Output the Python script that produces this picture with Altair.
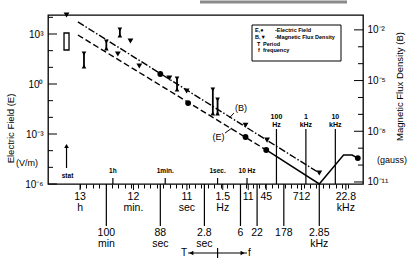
import altair as alt
import pandas as pd
import numpy as np

FONT = "Liberation Sans"

# ---------------- scale domains ----------------
F_MIN, F_MAX = 10 ** -5.59, 10 ** 4.77          # frequency, Hz
E_MIN, E_MAX = 1e-6, 10 ** 4.14                 # electric field, V/m
B_MIN, B_MAX = 10 ** -11.12, 10 ** -1.12        # magnetic flux density, gauss

# ---------------- data ----------------
# electric field points (dots)
e_freq = [1 / 88, 0.10, 8.9, 45, 58000]
e_field = [4.0, 0.072, 6.6e-4, 1.1e-4, 3.6e-5]

# magnetic flux density points (triangles)
b_freq = [7.4e-6, 4.1e-4, 1.1e-3, 2.2e-3, 0.023, 0.089, 8.9, 48, 2850]
b_field = [0.075, 3.7e-4, 2.2e-3, 7.2e-5, 1.4e-5, 2.4e-6, 2.3e-8, 3.0e-9, 3.4e-11]

# electric field ranges (I-bars)
r_freq = [2.9e-5, 1 / 6000, 4.8e-4, 0.042, 0.69, 1.0]
r_lo = [9.1, 110, 660, 0.38, 0.014, 0.014]
r_hi = [83, 440, 2300, 2.6, 0.58, 0.145]

# static field (open box)
stat_freq = [7.4e-6]
stat_lo = [110]
stat_hi = [1150]

# fitted lines
bfit_freq = [1.8e-5, 2850]
bfit_val = [0.0295, 3.4e-11]
efit_freq = [1.8e-5, 45]
efit_val = [870, 1.1e-4]
esolid_freq = [45, 2850, 19000, 37000, 58000]
esolid_val = [1.1e-4, 1e-6, 5.5e-5, 5.5e-5, 3.6e-5]

# curve labels and leaders (E-scale coordinates)
ann_text = ["(B)", "(E)"]
ann_freq = [6.2, 1.07]
ann_val = [0.036, 6.6e-4]
lead_f1 = [3.6, 1.8]
lead_f2 = [2.5, 3.1]
lead_v1 = [0.018, 1.15e-3]
lead_v2 = [0.0091, 2.3e-3]

# bottom axis labels
row1_text = ["13\nh", "12\nmin.", "11\nsec", "1.5\nHz", "11", "45", "712", "22.8\nkHz"]
row1_freq = [1 / (13 * 3600), 1 / 720, 1 / 11, 1.5, 11, 45, 712, 22800]
row2_text = ["100\nmin", "88\nsec", "2.8\nsec", "6", "22", "178", "2.85\nkHz"]
row2_freq = [1 / 6000, 1 / 88, 1 / 2.8, 6, 22, 178, 2850]
up_text = ["1h", "1min.", "1sec.", "10 Hz"]
up_freq = [1 / 3600, 1 / 60, 1, 10]
stat_text = ["stat"]
hz_text = ["100\nHz", "1\nkHz", "10\nkHz"]
hz_freq = [100, 1000, 10000]
tf_freq = [0.1, 10]
tf_mid = [1]
tf_head_freq = [10 ** -0.89, 10 ** 0.85]
tf_head_shape = ["triangle-left", "triangle-right"]

# axis decades
e_major = [1e-6, 1e-3, 1, 1e3]
e_minor = [1e-5, 1e-4, 1e-2, 1e-1, 10, 100, 1e4]
b_major = [1e-11, 1e-8, 1e-5, 1e-2]
b_minor = [1e-10, 1e-9, 1e-7, 1e-6, 1e-4, 1e-3]
x_minor = list(10 ** np.arange(-4.67, 4.62, 0.217))

legend_sym = ["E,\u25cf", "B,\u25bc", "T", "f"]
legend_desc = ["-Electric Field", "-Magnetic Flux Density", "Period", "frequency"]

# ---------------- tables ----------------
e_df = pd.DataFrame({"f": e_freq, "v": e_field})
b_df = pd.DataFrame({"f": b_freq, "v": b_field})
r_df = pd.DataFrame({"f": r_freq, "lo": r_lo, "hi": r_hi})
stat_df = pd.DataFrame({"f": stat_freq, "lo": stat_lo, "hi": stat_hi})
bfit_df = pd.DataFrame({"f": bfit_freq, "v": bfit_val})
efit_df = pd.DataFrame({"f": efit_freq, "v": efit_val})
esol_df = pd.DataFrame({"f": esolid_freq, "v": esolid_val})
ann_df = pd.DataFrame({"f": ann_freq, "v": ann_val, "t": ann_text})
lead_df = pd.DataFrame({"f": lead_f1, "f2": lead_f2, "v": lead_v1, "v2": lead_v2})
row1_df = pd.DataFrame({"f": row1_freq, "t": row1_text})
row2_df = pd.DataFrame({"f": row2_freq, "t": row2_text})
up_df = pd.DataFrame({"f": up_freq, "t": up_text})
stat_t_df = pd.DataFrame({"f": stat_freq, "t": stat_text})
hz_df = pd.DataFrame({"f": hz_freq, "t": hz_text})
tf_df = pd.DataFrame({"f": [tf_freq[0]], "f2": [tf_freq[1]]})
tfmid_df = pd.DataFrame({"f": tf_mid})
tfhead_df = pd.DataFrame({"f": tf_head_freq, "s": tf_head_shape})
tfl_df = pd.DataFrame({"f": tf_freq, "t": ["T", "f"]})
eM_df = pd.DataFrame({"v": e_major})
em_df = pd.DataFrame({"v": e_minor})
bM_df = pd.DataFrame({"v": b_major})
bm_df = pd.DataFrame({"v": b_minor})

# ---------------- scales / axes ----------------
xs = alt.Scale(type="log", domain=[F_MIN, F_MAX], nice=False)
x_axis = alt.Axis(values=x_minor, labels=False, ticks=True, tickSize=4, tickColor="black",
                  tickWidth=1, domain=False, grid=False, title=None)


def X(field="f"):
    return alt.X(f"{field}:Q", scale=xs, axis=x_axis)


e_label = ("datum.value > 100 ? '10\u00b3' : datum.value > 0.1 ? '10\u2070' : "
           "datum.value > 1e-4 ? '10\u207b\u00b3' : '10\u207b\u2076'")
b_label = ("datum.value > 1e-3 ? '10\u207b\u00b2' : datum.value > 1e-6 ? '10\u207b\u2075' : "
           "datum.value > 1e-9 ? '10\u207b\u2078' : '10\u207b\u00b9\u00b9'")

ys_e = alt.Scale(type="log", domain=[E_MIN, E_MAX], nice=False)
e_axis = alt.Axis(values=e_major, labelExpr=e_label, ticks=False, domain=False, grid=False,
                  labelPadding=5, labelFontSize=10, labelFont=FONT, labelColor="black",
                  title="Electric Field (E)", titleAngle=270, titleX=-38, titleY=113,
                  titleBaseline="middle", titleFontSize=9.5, titleFont=FONT,
                  titleFontWeight="normal", titleColor="black")
ys_b = alt.Scale(type="log", domain=[B_MIN, B_MAX], nice=False)
b_axis = alt.Axis(orient="right", values=b_major, labelExpr=b_label, ticks=False, domain=False,
                  grid=False, labelPadding=4, labelFontSize=10, labelFont=FONT,
                  labelColor="black", title="Magnetic Flux Density (B)", titleAngle=270,
                  titleX=36, titleY=71, titleBaseline="middle", titleFontSize=9.5,
                  titleFont=FONT, titleFontWeight="normal", titleColor="black")


def YE(field="v"):
    return alt.Y(f"{field}:Q", scale=ys_e, axis=e_axis)


def YB(field="v"):
    return alt.Y(f"{field}:Q", scale=ys_b, axis=b_axis)


# ---------------- E group ----------------
e_layers = [
    alt.Chart(efit_df).mark_line(color="black", strokeWidth=1.4, strokeDash=[6, 3]).encode(
        x=X(), y=YE()),
    alt.Chart(esol_df).mark_line(color="black", strokeWidth=1.5).encode(x=X(), y=YE()),
    alt.Chart(e_df).mark_point(shape="circle", filled=True, size=34, color="black", opacity=1).encode(
        x=X(), y=YE()),
    alt.Chart(r_df).mark_rule(color="black", strokeWidth=1.8).encode(
        x=X(), y=YE("lo"), y2=alt.Y2("hi")),
    alt.Chart(r_df).mark_point(shape="triangle-down", filled=True, size=22, color="black",
                               opacity=1, yOffset=1.5).encode(x=X(), y=YE("hi")),
    alt.Chart(r_df).mark_point(shape="triangle-up", filled=True, size=22, color="black",
                               opacity=1, yOffset=-1.5).encode(x=X(), y=YE("lo")),
    alt.Chart(stat_df).mark_bar(width=5, fill="white", stroke="black", strokeWidth=1.3).encode(
        x=X(), y=YE("lo"), y2=alt.Y2("hi")),
    # inward decade ticks, left
    alt.Chart(eM_df).mark_rule(color="black", strokeWidth=1).encode(
        y=YE(), x=alt.value(0), x2=alt.value(9)),
    alt.Chart(em_df).mark_rule(color="black", strokeWidth=1).encode(
        y=YE(), x=alt.value(0), x2=alt.value(5)),
    # curve labels and leaders
    alt.Chart(lead_df).mark_rule(color="black", strokeWidth=1).encode(
        x=X(), x2=alt.X2("f2"), y=YE(), y2=alt.Y2("v2")),
    alt.Chart(ann_df).mark_text(font=FONT, fontSize=9, color="black").encode(
        x=X(), y=YE(), text="t:N"),
    # bottom axis furniture
    alt.Chart(row1_df).mark_rule(color="black", strokeWidth=1).encode(
        x=X(), y=alt.value(169), y2=alt.value(175)),
    alt.Chart(row1_df).mark_text(font=FONT, fontSize=10.5, color="black", baseline="top",
                                 lineBreak="\n", lineHeight=11).encode(
        x=X(), y=alt.value(177), text="t:N"),
    alt.Chart(row2_df).mark_rule(color="black", strokeWidth=1.2).encode(
        x=X(), y=alt.value(169), y2=alt.value(211)),
    alt.Chart(row2_df).mark_text(font=FONT, fontSize=10.5, color="black", baseline="top",
                                 lineBreak="\n", lineHeight=11).encode(
        x=X(), y=alt.value(213), text="t:N"),
    alt.Chart(up_df).mark_rule(color="black", strokeWidth=1.2).encode(
        x=X(), y=alt.value(163), y2=alt.value(169)),
    alt.Chart(up_df).mark_text(font=FONT, fontSize=6.5, fontWeight="bold", color="black",
                               baseline="middle").encode(x=X(), y=alt.value(156), text="t:N"),
    alt.Chart(stat_t_df).mark_text(font=FONT, fontSize=6.5, fontWeight="bold", color="black",
                                   baseline="middle", dx=1).encode(
        x=X(), y=alt.value(161), text="t:N"),
    alt.Chart(stat_t_df).mark_rule(color="black", strokeWidth=1.2).encode(
        x=X(), y=alt.value(130), y2=alt.value(153)),
    alt.Chart(stat_t_df).mark_point(shape="triangle-up", filled=True, size=22, color="black",
                                    opacity=1).encode(x=X(), y=alt.value(131)),
    alt.Chart(hz_df).mark_rule(color="black", strokeWidth=1.2).encode(
        x=X(), y=alt.value(114), y2=alt.value(169)),
    alt.Chart(hz_df).mark_text(font=FONT, fontSize=7, fontWeight="bold", color="black",
                               baseline="top", lineBreak="\n", lineHeight=8).encode(
        x=X(), y=alt.value(98), text="t:N"),
    # T <-+-> f arrow
    alt.Chart(tf_df).mark_rule(color="black", strokeWidth=1.2).encode(
        x=X(), x2=alt.X2("f2"), y=alt.value(238)),
    alt.Chart(tfmid_df).mark_rule(color="black", strokeWidth=1.2).encode(
        x=X(), y=alt.value(233), y2=alt.value(243)),
    alt.Chart(tfhead_df).mark_point(filled=True, size=22, color="black", opacity=1).encode(
        x=X(), y=alt.value(238), shape=alt.Shape("s:N", scale=None)),
    alt.Chart(tfl_df.iloc[:1]).mark_text(font=FONT, fontSize=10, color="black", align="right",
                                         dx=-1, baseline="middle").encode(
        x=X(), y=alt.value(238), text="t:N"),
    alt.Chart(tfl_df.iloc[1:]).mark_text(font=FONT, fontSize=10, color="black", align="left",
                                         dx=1, baseline="middle").encode(
        x=X(), y=alt.value(238), text="t:N"),
]

# decorations in pixel space (units, legend box, scan bar)
deco = []
deco.append(alt.Chart(pd.DataFrame({"t": ["(V/m)"]})).mark_text(
    font=FONT, fontSize=9, color="black").encode(x=alt.value(-21), y=alt.value(148), text="t:N"))
deco.append(alt.Chart(pd.DataFrame({"t": ["(gauss)"]})).mark_text(
    font=FONT, fontSize=9, color="black", align="left").encode(
    x=alt.value(329), y=alt.value(145), text="t:N"))
deco.append(alt.Chart(pd.DataFrame({"t": ["box"]})).mark_rect(
    fill="white", stroke="black", strokeWidth=1).encode(
    x=alt.value(204), x2=alt.value(293), y=alt.value(10), y2=alt.value(46)))
sym_x = [207, 207, 209, 210]
desc_x = [227, 227, 215, 215]
for i, (s, d) in enumerate(zip(legend_sym, legend_desc)):
    yy = 15 + i * 6.8
    deco.append(alt.Chart(pd.DataFrame({"t": [s]})).mark_text(
        font=FONT, fontSize=5.5, fontWeight="bold", color="black", align="left",
        baseline="middle").encode(x=alt.value(sym_x[i]), y=alt.value(yy), text="t:N"))
    deco.append(alt.Chart(pd.DataFrame({"t": [d]})).mark_text(
        font=FONT, fontSize=5.5, fontWeight="bold", color="black", align="left",
        baseline="middle").encode(x=alt.value(desc_x[i]), y=alt.value(yy), text="t:N"))
deco.append(alt.Chart(pd.DataFrame({"t": ["bar"]})).mark_rule(
    color="#8a8a8a", strokeWidth=3).encode(x=alt.value(152), x2=alt.value(299), y=alt.value(-13)))

e_group = alt.layer(*e_layers, *deco)

# ---------------- B group ----------------
b_layers = [
    alt.Chart(bfit_df).mark_line(color="black", strokeWidth=1.4, strokeDash=[7, 2, 1.5, 2]).encode(
        x=X(), y=YB()),
    alt.Chart(b_df).mark_point(shape="triangle-down", filled=True, size=34, color="black",
                               opacity=1).encode(x=X(), y=YB()),
    alt.Chart(bM_df).mark_rule(color="black", strokeWidth=1).encode(
        y=YB(), x=alt.value(306), x2=alt.value(315)),
    alt.Chart(bm_df).mark_rule(color="black", strokeWidth=1).encode(
        y=YB(), x=alt.value(310), x2=alt.value(315)),
]
b_group = alt.layer(*b_layers)

chart = alt.layer(e_group, b_group).resolve_scale(y="independent").properties(
    width=315, height=169,
    autosize=alt.AutoSizeParams(type="none"),
    padding={"left": 48, "top": 15, "right": 44, "bottom": 85},
    background="white",
).configure_view(stroke="black", strokeWidth=1.3).configure_axis(grid=False)

chart.save("out.html", embed_options={"renderer": "svg", "actions": False})
